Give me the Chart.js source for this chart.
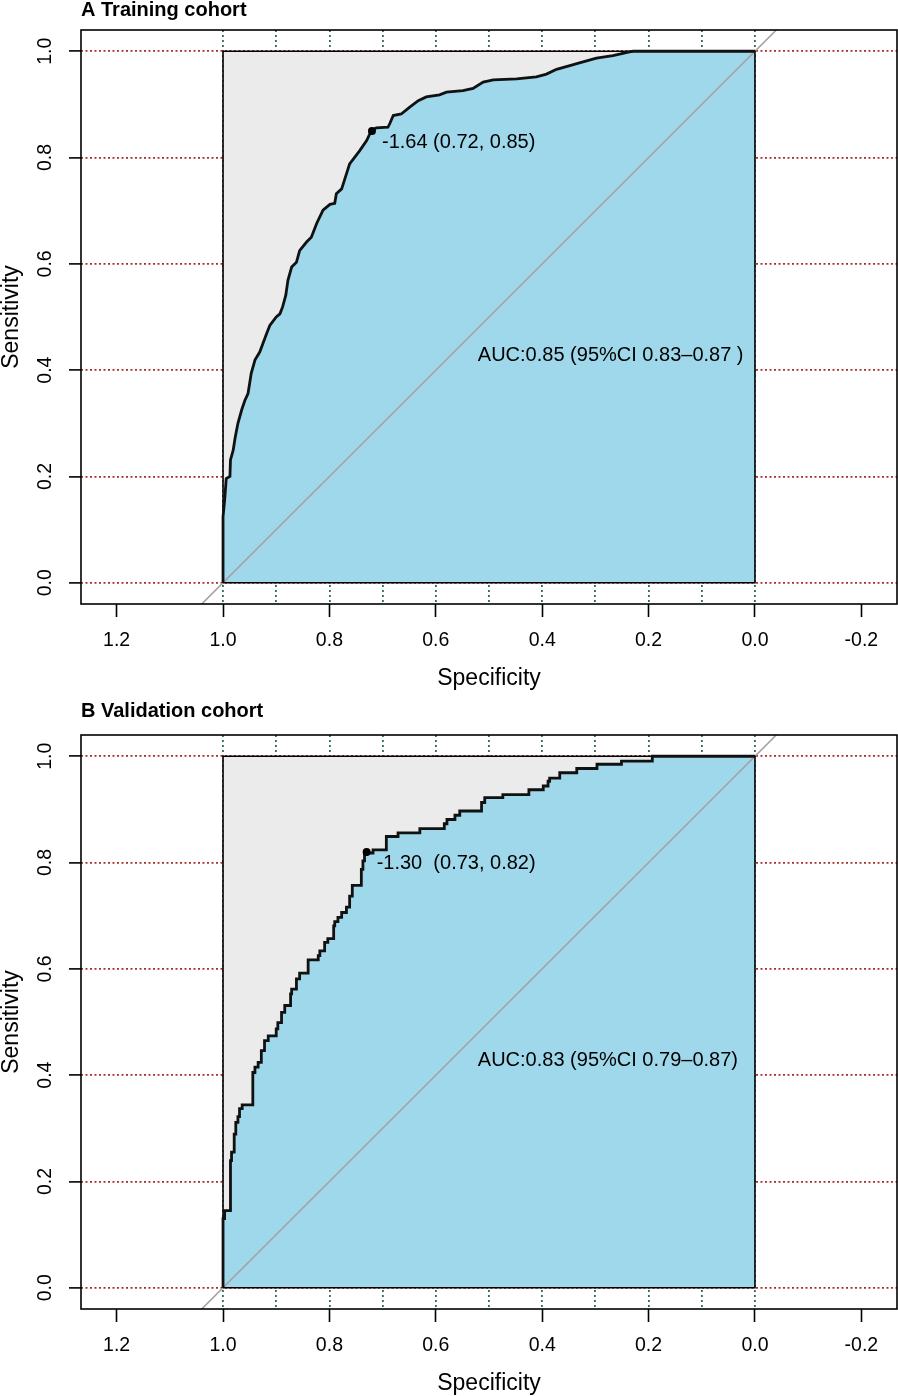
<!DOCTYPE html>
<html>
<head>
<meta charset="utf-8">
<title>ROC curves</title>
<script src="https://cdn.jsdelivr.net/npm/chart.js@4.4.1/dist/chart.umd.min.js"></script>
<style>
  html, body { margin: 0; padding: 0; background: #fff; overflow: hidden; }
  #panel-a { position: absolute; left: 0; top: 0; width: 898px; height: 690px; overflow: hidden; }
  #panel-b { position: absolute; left: 0; top: 690px; width: 898px; height: 706px; overflow: hidden; }
  canvas { display: block; }
</style>
</head>
<body>
<div id="panel-a"><canvas id="chart-a" width="898" height="705"></canvas></div>
<div id="panel-b"><canvas id="chart-b" width="898" height="720"></canvas></div>
<script>
// Axis ticks
var xTicks = [1.2, 1.0, 0.8, 0.6, 0.4, 0.2, 0.0, -0.2]
var yTicks = [0.0, 0.2, 0.4, 0.6, 0.8, 1.0]
var gridTicks = [1.0, 0.9, 0.8, 0.7, 0.6, 0.5, 0.4, 0.3, 0.2, 0.1, 0.0]

// Training cohort ROC curve
var trainSpec = [1.000, 1.000, 0.997, 0.994, 0.987, 0.986, 0.981, 0.977, 0.972, 0.965,
                 0.959, 0.953, 0.950, 0.947, 0.940, 0.931, 0.925, 0.918, 0.912, 0.900,
                 0.893, 0.888, 0.882, 0.878, 0.871, 0.862, 0.856, 0.843, 0.834, 0.824,
                 0.812, 0.799, 0.790, 0.787, 0.777, 0.771, 0.762, 0.743, 0.730, 0.721,
                 0.712, 0.690, 0.686, 0.680, 0.665, 0.649, 0.633, 0.618, 0.593, 0.580,
                 0.549, 0.530, 0.511, 0.492, 0.448, 0.411, 0.392, 0.373, 0.348, 0.330,
                 0.298, 0.267, 0.236, 0.229, 0.000]
var trainSens = [0.000, 0.124, 0.155, 0.196, 0.200, 0.231, 0.249, 0.274, 0.300, 0.325,
                 0.343, 0.356, 0.375, 0.394, 0.419, 0.434, 0.450, 0.469, 0.484, 0.500,
                 0.506, 0.519, 0.541, 0.569, 0.594, 0.603, 0.625, 0.641, 0.650, 0.676,
                 0.701, 0.712, 0.714, 0.732, 0.741, 0.760, 0.788, 0.813, 0.832, 0.851,
                 0.856, 0.857, 0.865, 0.879, 0.882, 0.895, 0.907, 0.914, 0.918, 0.923,
                 0.926, 0.930, 0.942, 0.946, 0.948, 0.952, 0.957, 0.966, 0.973, 0.978,
                 0.987, 0.992, 0.999, 1.000, 1.000]
var trainBest = [0.72, 0.85]
var trainBestLabel = "-1.64 (0.72, 0.85)"
var trainAucLabel = "AUC:0.85 (95%CI 0.83\u20130.87 )"

// Validation cohort ROC curve
var validSpec = [1.000, 0.997, 0.986, 0.984, 0.979, 0.976, 0.972, 0.969, 0.964, 0.944,
                 0.940, 0.934, 0.928, 0.922, 0.915, 0.900, 0.897, 0.890, 0.884, 0.873,
                 0.871, 0.862, 0.856, 0.840, 0.821, 0.818, 0.809, 0.803, 0.792, 0.790,
                 0.784, 0.777, 0.768, 0.762, 0.757, 0.740, 0.737, 0.734, 0.730, 0.718,
                 0.693, 0.671, 0.630, 0.584, 0.579, 0.564, 0.555, 0.514, 0.508, 0.474,
                 0.425, 0.398, 0.389, 0.386, 0.367, 0.335, 0.297, 0.251, 0.193, 0.000]
var validSens = [0.000, 0.130, 0.145, 0.239, 0.255, 0.289, 0.311, 0.322, 0.337, 0.344,
                 0.405, 0.415, 0.424, 0.446, 0.465, 0.474, 0.487, 0.499, 0.518, 0.531,
                 0.553, 0.562, 0.581, 0.592, 0.617, 0.625, 0.634, 0.650, 0.657, 0.681,
                 0.689, 0.697, 0.706, 0.716, 0.737, 0.757, 0.787, 0.803, 0.815, 0.818,
                 0.824, 0.849, 0.856, 0.864, 0.873, 0.881, 0.889, 0.897, 0.913, 0.922,
                 0.928, 0.937, 0.944, 0.953, 0.959, 0.969, 0.977, 0.985, 0.991, 1.000]
var validBest = [0.73, 0.82]
var validBestLabel = "-1.30  (0.73, 0.82)"
var validAucLabel = "AUC:0.83 (95%CI 0.79\u20130.87)"

// Perfect classifier square and chance line
var squareSpec = [1, 1, 0, 0, 1]
var squareSens = [0, 1, 1, 0, 0]
var chanceSpec = [1.3, -0.3]
var chanceSens = [-0.3, 1.3]
var aucPos = [0.521, 0.428]

var fontFamily = '"Liberation Sans", Arial, Helvetica, sans-serif'
Chart.defaults.font.family = fontFamily
Chart.defaults.color = "#000"

function pts(xs, ys) {
    return xs.map(function(x, i){ return {x: x, y: ys[i]} })
}

function setTicks(list) {
    return function(axis) {
        axis.ticks = list.map(function(v){ return {value: v} })
    }
}

// Box, best threshold label and AUC text
var annotate = {
    id: "annotate",
    afterDatasetsDraw: function(chart, args, opts) {
        var ctx = chart.ctx, a = chart.chartArea
        var x = chart.scales.x, y = chart.scales.y
        ctx.save()
        ctx.strokeStyle = "#000"
        ctx.lineWidth = 1.6
        ctx.strokeRect(a.left, a.top, a.right - a.left, a.bottom - a.top)
        ctx.font = "20px " + fontFamily
        ctx.fillStyle = "#000"
        ctx.textBaseline = "middle"
        ctx.textAlign = "left"
        ctx.fillText(opts.bestLabel, x.getPixelForValue(opts.best[0]) + 10, y.getPixelForValue(opts.best[1]) + 12)
        ctx.fillText(opts.aucLabel, x.getPixelForValue(aucPos[0]), y.getPixelForValue(aucPos[1]))
        ctx.restore()
    }
}

// head = [title padding top, title line height, space above the box]
function makeChart(id, title, head, stepped, spec, sens, best, bestLabel, aucLabel) {
    return new Chart(document.getElementById(id), {
        type: "line",
        data: {
            datasets: [
                {   // best threshold
                    data: pts([best[0]], [best[1]]),
                    showLine: false, pointRadius: 4, pointBorderWidth: 0,
                    pointBackgroundColor: "#000", order: 0
                },
                {   // ROC curve
                    data: pts(spec, sens),
                    borderColor: "#111", borderWidth: 2.8, stepped: stepped,
                    pointRadius: 0, fill: false, order: 1
                },
                {   // square border
                    data: pts(squareSpec, squareSens),
                    borderColor: "#000", borderWidth: 1.6, pointRadius: 0, fill: false, order: 2
                },
                {   // chance line
                    data: pts(chanceSpec, chanceSens),
                    borderColor: "#a3a3a3", borderWidth: 1.6, pointRadius: 0, fill: false, order: 3
                },
                {   // area under curve
                    data: pts(spec, sens),
                    borderWidth: 0, stepped: stepped, pointRadius: 0,
                    backgroundColor: "#a0d8eb", fill: {value: 0}, order: 4
                },
                {   // max AUC polygon
                    data: pts(squareSpec.slice(1, 3), squareSens.slice(1, 3)),
                    borderWidth: 0, pointRadius: 0,
                    backgroundColor: "#ebebeb", fill: {value: 0}, order: 5
                }
            ]
        },
        options: {
            responsive: false,
            animation: false,
            events: [],
            layout: {autoPadding: false, padding: {left: 0, right: 1, top: 0, bottom: 0}},
            plugins: {
                legend: {display: false},
                tooltip: {enabled: false},
                title: {
                    display: true, text: title, align: "start", fullSize: false,
                    color: "#000",
                    font: {size: 20, weight: "bold", lineHeight: head[1] / 20},
                    padding: {top: head[0], bottom: head[2] - head[0] - head[1]}
                },
                annotate: {best: best, bestLabel: bestLabel, aucLabel: aucLabel}
            },
            scales: {
                x: {
                    type: "linear", reverse: true, min: -0.267, max: 1.267,
                    afterBuildTicks: setTicks(xTicks),
                    afterFit: function(axis){
                        axis.height = 101
                        axis.paddingLeft = 0
                        axis.paddingRight = 0
                    },
                    ticks: {
                        autoSkip: false, maxRotation: 0, padding: 12,
                        font: {size: 19.5},
                        callback: function(v){ return v.toFixed(1) }
                    },
                    grid: {drawOnChartArea: false, drawTicks: true, tickLength: 13, tickColor: "#000", tickWidth: 1.6},
                    border: {display: false},
                    title: {display: true, text: "Specificity", font: {size: 23, lineHeight: 1}, padding: {top: 0, bottom: 14.5}}
                },
                xg: {
                    type: "linear", reverse: true, min: -0.267, max: 1.267, position: "bottom",
                    afterBuildTicks: setTicks(gridTicks),
                    afterFit: function(axis){
                        axis.height = 0
                        axis.paddingLeft = 0
                        axis.paddingRight = 0
                    },
                    ticks: {display: false},
                    grid: {color: "#2f6a5c", lineWidth: 1.8, drawTicks: false},
                    border: {display: false, dash: [2, 3]}
                },
                y: {
                    type: "linear", min: -0.04, max: 1.04,
                    afterBuildTicks: setTicks(yTicks),
                    afterFit: function(axis){
                        axis.width = 81
                        axis.paddingTop = 0
                        axis.paddingBottom = 0
                    },
                    ticks: {
                        autoSkip: false, minRotation: 90, maxRotation: 90, crossAlign: "center",
                        padding: 10, font: {size: 19.5},
                        callback: function(v){ return v.toFixed(1) }
                    },
                    grid: {color: "#a8302a", lineWidth: 1.8, tickLength: 12, tickColor: "#000", tickWidth: 1.6},
                    border: {display: false, dash: [2, 2.5]},
                    title: {display: true, text: "Sensitivity", font: {size: 23, lineHeight: 1}, padding: {top: 0.5, bottom: 0}}
                }
            }
        },
        plugins: [annotate]
    })
}

makeChart("chart-a", "A Training cohort", [2.5, 16, 30], false, trainSpec, trainSens, trainBest, trainBestLabel, trainAucLabel)
makeChart("chart-b", "B Validation cohort", [13.3, 16, 45], "after", validSpec, validSens, validBest, validBestLabel, validAucLabel)
</script>
</body>
</html>
